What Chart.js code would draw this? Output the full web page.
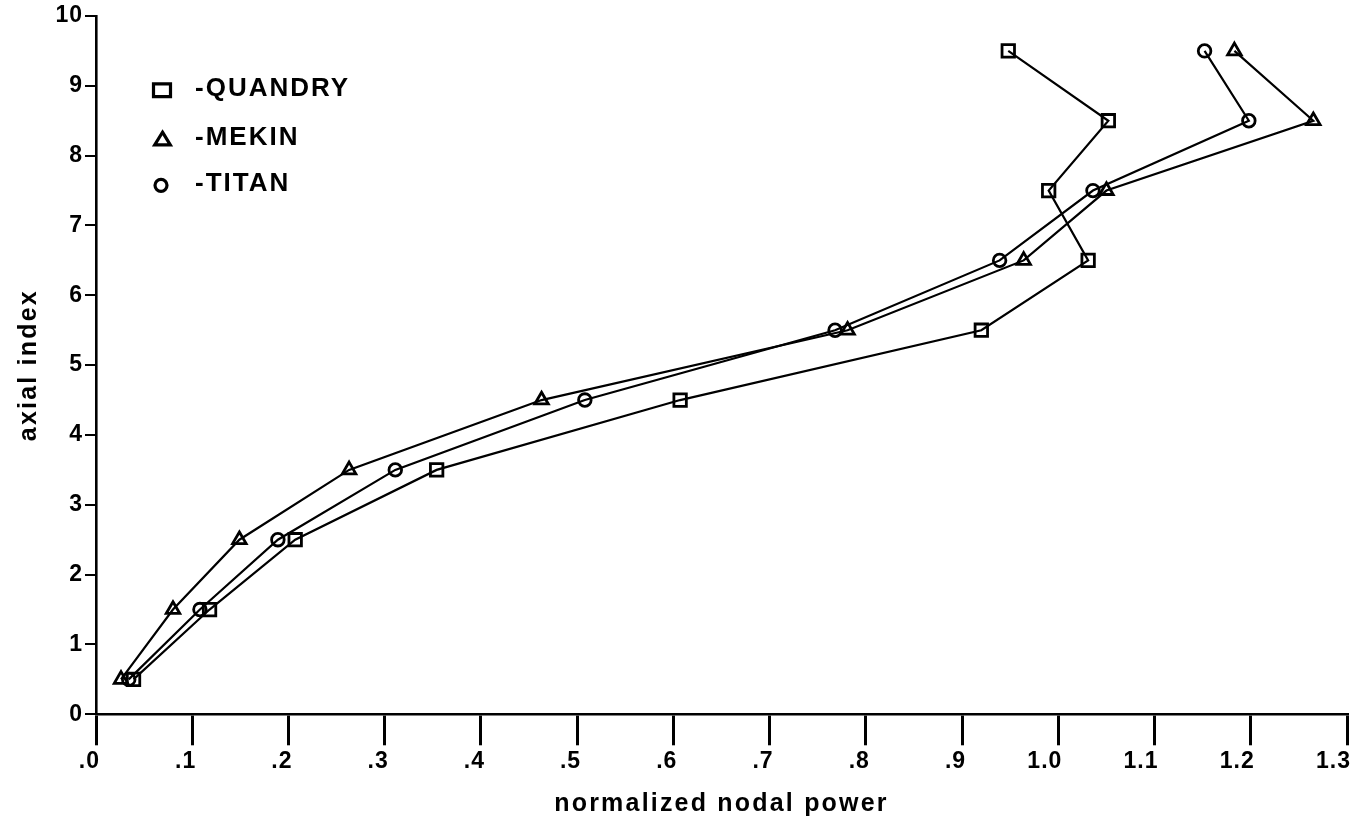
<!DOCTYPE html>
<html><head><meta charset="utf-8">
<script src="https://cdn.jsdelivr.net/npm/chart.js@4/dist/chart.umd.min.js"></script>
<style>html,body{margin:0;padding:0;background:#fff;}</style>
</head><body>
<canvas id="c" width="1359" height="825"></canvas>
<script>
// ---- data ----
const axialIndex = [0.5, 1.5, 2.5, 3.5, 4.5, 5.5, 6.5, 7.5, 8.5, 9.5];
const quandry = [0.039, 0.118, 0.207, 0.354, 0.607, 0.920, 1.031, 0.990, 1.052, 0.948];
const mekin   = [0.026, 0.080, 0.149, 0.263, 0.463, 0.781, 0.964, 1.050, 1.265, 1.183];
const titan   = [0.034, 0.108, 0.189, 0.311, 0.508, 0.768, 0.939, 1.036, 1.198, 1.152];
const seriesNames = ['QUANDRY', 'MEKIN', 'TITAN'];
const seriesStyles = ['rect', 'triangle', 'circle'];
const xTickLabels = ['.0', '.1', '.2', '.3', '.4', '.5', '.6', '.7', '.8', '.9', '1.0', '1.1', '1.2', '1.3'];
const yTickLabels = ['0', '1', '2', '3', '4', '5', '6', '7', '8', '9', '10'];
const xTitle = 'normalized nodal power';
const yTitle = 'axial index';

const toPoints = vals => vals.map((v, i) => ({ x: v, y: axialIndex[i] }));
const radii = { rect: 8.8, triangle: 7.8, circle: 6.3 };

const datasets = [quandry, mekin, titan].map((vals, i) => ({
  label: seriesNames[i],
  data: toPoints(vals),
  showLine: true,
  borderColor: '#000',
  borderWidth: 2.2,
  pointStyle: seriesStyles[i],
  pointRadius: radii[seriesStyles[i]],
  pointBorderWidth: 2.8,
  pointBorderColor: '#000',
  pointBackgroundColor: 'rgba(0,0,0,0)',
  tension: 0
}));

const TITLE_SP = '2.2px';
const TICK_SP = '1px';
const spacingPlugin = {
  id: 'spacing',
  beforeInit(c) { c.ctx.letterSpacing = TITLE_SP; },
  beforeUpdate(c) { c.ctx.letterSpacing = TITLE_SP; },
  beforeLayout(c) { c.ctx.letterSpacing = TITLE_SP; },
  beforeDraw(c) { c.ctx.letterSpacing = TITLE_SP; },
  afterDatasetsDraw(c) { c.ctx.letterSpacing = TICK_SP; }
};

const legendRows = [88.3, 136.7, 183.3];
const legendPlugin = {
  id: 'plotLegend',
  afterDraw(c) {
    const ctx = c.ctx;
    ctx.save();
    ctx.letterSpacing = '2px';
    c.data.datasets.forEach((ds, i) => {
      const y = legendRows[i];
      ctx.strokeStyle = '#000';
      ctx.fillStyle = 'rgba(0,0,0,0)';
      ctx.lineWidth = 3.2;
      const st = ds.pointStyle;
      if (st === 'rect') {
        Chart.helpers.drawPointLegend(ctx, { pointStyle: 'rect', radius: 9, borderWidth: 3.2, rotation: 0 }, 162, y + 2, 17);
      } else if (st === 'triangle') {
        Chart.helpers.drawPointLegend(ctx, { pointStyle: 'triangle', radius: 8.5, borderWidth: 3.2, rotation: 0 }, 162.5, y + 4, 18);
      } else {
        Chart.helpers.drawPointLegend(ctx, { pointStyle: 'circle', radius: 6, borderWidth: 3.2, rotation: 0 }, 161, y + 2);
      }
      ctx.fillStyle = '#000';
      ctx.font = 'bold 26px "Liberation Sans", Arial, sans-serif';
      ctx.textAlign = 'left';
      ctx.textBaseline = 'middle';
      ctx.fillText('-' + ds.label, 195, y + 1);
    });
    ctx.restore();
  }
};

const tickFont = { family: '"Liberation Sans", Arial, sans-serif', weight: 'bold', size: 23 };
const titleFont = { family: '"Liberation Sans", Arial, sans-serif', weight: 'bold', size: 25 };

new Chart(document.getElementById('c'), {
  type: 'scatter',
  data: { datasets },
  options: {
    responsive: false,
    animation: false,
    events: [],
    layout: { padding: { top: 16, right: 12, left: 0, bottom: 0 } },
    plugins: { legend: { display: false }, tooltip: { enabled: false } },
    scales: {
      x: {
        type: 'linear', min: 0, max: 1.3,
        afterFit(s) { s.height = 110.7; },
        border: { display: true, color: '#000', width: 2.6 },
        grid: { display: true, drawOnChartArea: false, drawTicks: true, tickLength: 31, color: '#000', lineWidth: 3 },
        ticks: {
          z: 1,
          stepSize: 0.1, autoSkip: false, maxRotation: 0, color: '#000', font: tickFont,
          align: 'end', labelOffset: 4, padding: 3,
          callback: (v, i) => xTickLabels[i]
        },
        title: { display: true, text: xTitle, color: '#000', font: titleFont, padding: { top: 0, bottom: 6 } }
      },
      y: {
        type: 'linear', min: 0, max: 10,
        afterFit(s) { s.width = 96; },
        border: { display: true, color: '#000', width: 2.6 },
        grid: { display: true, drawOnChartArea: false, drawTicks: true, tickLength: 11, color: '#000', lineWidth: 2 },
        ticks: {
          z: 1,
          stepSize: 1, autoSkip: false, color: '#000', font: tickFont, padding: 2,
          callback: (v, i) => yTickLabels[i]
        },
        title: { display: true, text: yTitle, color: '#000', font: titleFont, padding: { top: 14, bottom: 0 } }
      }
    }
  },
  plugins: [spacingPlugin, legendPlugin]
});
</script>
</body></html>
